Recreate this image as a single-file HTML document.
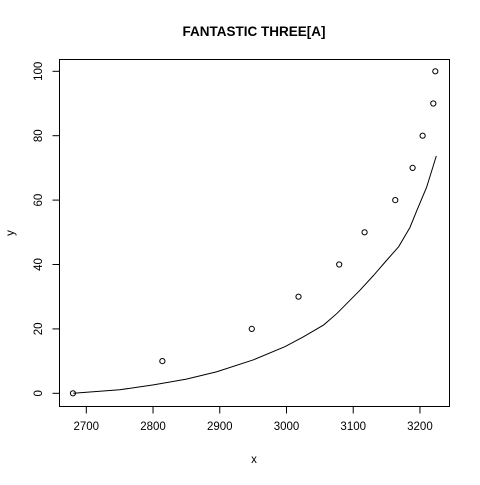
<!DOCTYPE html>
<html><head><meta charset="utf-8"><style>
body{margin:0;background:#fff}
svg text{font-family:"Liberation Sans",Arial,sans-serif;fill:#000}
</style></head><body>
<svg id="chart" width="480" height="480">
<rect width="480" height="480" fill="#fff"/>
<text x="254" y="36" text-anchor="middle" font-size="13.5" font-weight="bold">FANTASTIC THREE[A]</text>
<text x="254" y="463" text-anchor="middle" font-size="11.5">x</text>
<text transform="translate(14,233) rotate(-90)" text-anchor="middle" font-size="11.5">y</text>
<rect x="59.5" y="59.5" width="390" height="347" fill="none" stroke="#000"/>
<g id="axes"></g><g id="marks"></g>
</svg>
<script>
const pointX=[2680,2814,2948,3018,3079,3117,3163,3189,3204,3220,3223];
const pointY=[0,10,20,30,40,50,60,70,80,90,100];
const curveX=[2680.5,2750,2800.5,2850,2895.6,2950.5,2998,3025,3055.5,3075.6,3110.5,3130,3150.5,3168,3185,3195.6,3210,3224.5];
const curveY=[0,1.1,2.6,4.4,6.7,10.4,14.5,17.5,21.2,24.8,32.1,36.5,41.4,45.5,51.5,56.9,64,73.7];
const xTicks=[2700,2800,2900,3000,3100,3200];
const yTicks=[0,20,40,60,80,100];
const NS='http://www.w3.org/2000/svg';
function sx(v){return 86.3+(v-2700)*0.6673;}
function sy(v){return 393.3-v*3.22;}
const axes=document.getElementById('axes'),marks=document.getElementById('marks');
function mk(tag,attrs,parent){const e=document.createElementNS(NS,tag);for(const k in attrs)e.setAttribute(k,attrs[k]);parent.appendChild(e);return e;}
mk('line',{x1:sx(xTicks[0]),x2:sx(xTicks[xTicks.length-1]),y1:406.5,y2:406.5,stroke:'#000'},axes);
xTicks.forEach(t=>{
  const l=mk('line',{x1:sx(t),x2:sx(t),y1:406.5,y2:413.5,stroke:'#000'},axes);
  
  
  const tx=mk('text',{x:sx(t),y:430,'text-anchor':'middle','font-size':'11.5'},axes);
  tx.textContent=t;
  
  
});
mk('line',{x1:59.5,x2:59.5,y1:sy(yTicks[0]),y2:sy(yTicks[yTicks.length-1]),stroke:'#000'},axes);
yTicks.forEach(t=>{
  const l=mk('line',{x1:52.5,x2:59.5,y1:sy(t),y2:sy(t),stroke:'#000'},axes);
  
  
  const tx=mk('text',{transform:`translate(42,${sy(t)}) rotate(-90)`,'text-anchor':'middle','font-size':'11.5'},axes);
  tx.textContent=t;
  
  
});
const pl=mk('polyline',{points:curveX.map((x,i)=>sx(x)+','+sy(curveY[i])).join(' '),fill:'none',stroke:'#000','stroke-width':1},marks);


pointX.forEach((x,i)=>{
  const c=mk('circle',{cx:sx(x),cy:sy(pointY[i]),r:2.6,fill:'none',stroke:'#000','stroke-width':1},marks);
  
  
});
</script>
</body></html>
